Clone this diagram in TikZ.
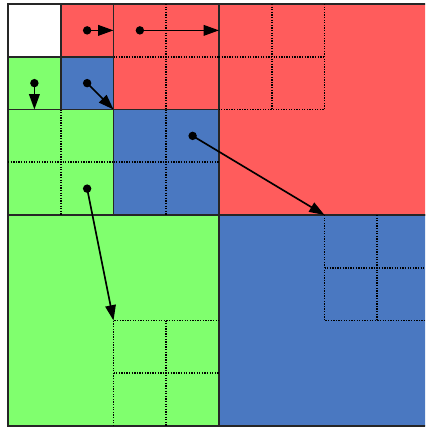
\documentclass[tikz,border=0pt]{standalone}
\usetikzlibrary{arrows.meta}
\definecolor{cellred}{HTML}{FF5C5C}
\definecolor{cellgreen}{HTML}{80FF6E}
\definecolor{cellblue}{HTML}{4A78C1}
\definecolor{gridline}{HTML}{262626}
\tikzset{
  cellbox/.style  = {draw=gridline, line width=1pt},
  redcell/.style  = {cellbox, fill=cellred},
  greencell/.style= {cellbox, fill=cellgreen},
  bluecell/.style = {cellbox, fill=cellblue},
  whitecell/.style= {cellbox, fill=white},
  subgrid/.style  = {draw=black, line width=0.9pt,
                     dash pattern=on 0.7pt off 0.7pt},
  movedot/.style  = {circle, fill=black, inner sep=0pt, minimum size=1.6mm},
  movearr/.style  = {draw=black, line width=0.9pt,
                     -{Triangle[length=2.9mm, width=2mm]}},
}

\begin{document}
\begin{tikzpicture}[y=-1cm]
    \useasboundingbox (-0.152,-0.076) rectangle (7.905,8.038);
    \clip (-0.152,-0.076) rectangle (7.905,8.038);

    % level 3
    \draw[redcell]   (4,0) rectangle (8,4);
    \draw[greencell] (0,4) rectangle (4,8);
    \draw[bluecell]  (4,4) rectangle (8,8);
    % level 2
    \draw[redcell]   (2,0) rectangle (4,2);
    \draw[greencell] (0,2) rectangle (2,4);
    \draw[bluecell]  (2,2) rectangle (4,4);
    % level 1
    \draw[whitecell] (0,0) rectangle (1,1);
    \draw[redcell]   (1,0) rectangle (2,1);
    \draw[greencell] (0,1) rectangle (1,2);
    \draw[bluecell]  (1,1) rectangle (2,2);

    % dotted subdivisions
    \draw[subgrid] (3,0) -- (3,2) (2,1) -- (4,1);
    \draw[subgrid] (1,2) -- (1,4) (0,3) -- (2,3);
    \draw[subgrid] (3,2) -- (3,4) (2,3) -- (4,3);
    \draw[subgrid] (6,0) -- (6,2) -- (4,2) (5,0) -- (5,2) (4,1) -- (6,1);
    \draw[subgrid] (2,8) -- (2,6) -- (4,6) (3,6) -- (3,8) (2,7) -- (4,7);
    \draw[subgrid] (6,4) -- (6,6) -- (8,6) (7,4) -- (7,6) (6,5) -- (8,5);

    % moves
    \node[movedot] (d1) at (1.5,0.5) {};
    \node[movedot] (d2) at (2.5,0.5) {};
    \node[movedot] (d3) at (0.5,1.5) {};
    \node[movedot] (d4) at (1.5,1.5) {};
    \node[movedot] (d5) at (3.5,2.5) {};
    \node[movedot] (d6) at (1.5,3.5) {};
    \coordinate (t1) at (2,0.5);
    \coordinate (t2) at (4,0.5);
    \coordinate (t3) at (0.5,2);
    \coordinate (t4) at (2,2);
    \coordinate (t5) at (6,4);
    \coordinate (t6) at (2,6);
    \draw[movearr] (d1.center) -- (t1);
    \draw[movearr] (d2.center) -- (t2);
    \draw[movearr] (d3.center) -- (t3);
    \draw[movearr] (d4.center) -- (t4);
    \draw[movearr] (d5.center) -- (t5);
    \draw[movearr] (d6.center) -- (t6);
\end{tikzpicture}
\end{document}
